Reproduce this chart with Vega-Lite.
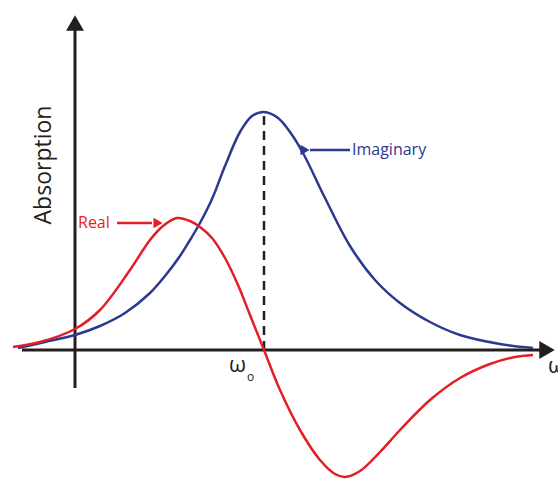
{
  "$schema": "https://vega.github.io/schema/vega-lite/v6.json",
  "width": 558,
  "height": 480,
  "autosize": {"type": "none"},
  "padding": 0,
  "background": "white",
  "config": {"view": {"stroke": null}},
  "datasets": {
    "curves": [
      {"series": "Imaginary", "w": 18, "a": 2},
      {"series": "Imaginary", "w": 45, "a": 8},
      {"series": "Imaginary", "w": 75, "a": 15},
      {"series": "Imaginary", "w": 100, "a": 24},
      {"series": "Imaginary", "w": 125, "a": 37},
      {"series": "Imaginary", "w": 150, "a": 57},
      {"series": "Imaginary", "w": 165, "a": 74},
      {"series": "Imaginary", "w": 180, "a": 94},
      {"series": "Imaginary", "w": 190, "a": 110},
      {"series": "Imaginary", "w": 200, "a": 127},
      {"series": "Imaginary", "w": 212, "a": 151},
      {"series": "Imaginary", "w": 225, "a": 184},
      {"series": "Imaginary", "w": 240, "a": 218},
      {"series": "Imaginary", "w": 252, "a": 234},
      {"series": "Imaginary", "w": 264, "a": 238},
      {"series": "Imaginary", "w": 278, "a": 232},
      {"series": "Imaginary", "w": 290, "a": 218},
      {"series": "Imaginary", "w": 303, "a": 197},
      {"series": "Imaginary", "w": 325, "a": 152},
      {"series": "Imaginary", "w": 350, "a": 104},
      {"series": "Imaginary", "w": 375, "a": 70},
      {"series": "Imaginary", "w": 400, "a": 47},
      {"series": "Imaginary", "w": 430, "a": 28},
      {"series": "Imaginary", "w": 460, "a": 15},
      {"series": "Imaginary", "w": 500, "a": 6},
      {"series": "Imaginary", "w": 533, "a": 2},
      {"series": "Real", "w": 13, "a": 3},
      {"series": "Real", "w": 40, "a": 8},
      {"series": "Real", "w": 75, "a": 21},
      {"series": "Real", "w": 100, "a": 40},
      {"series": "Real", "w": 130, "a": 80},
      {"series": "Real", "w": 150, "a": 110},
      {"series": "Real", "w": 163, "a": 124},
      {"series": "Real", "w": 177, "a": 132},
      {"series": "Real", "w": 190, "a": 129},
      {"series": "Real", "w": 200, "a": 123},
      {"series": "Real", "w": 212, "a": 112},
      {"series": "Real", "w": 225, "a": 92},
      {"series": "Real", "w": 238, "a": 65},
      {"series": "Real", "w": 250, "a": 35},
      {"series": "Real", "w": 264, "a": 0},
      {"series": "Real", "w": 280, "a": -40},
      {"series": "Real", "w": 300, "a": -80},
      {"series": "Real", "w": 320, "a": -110},
      {"series": "Real", "w": 335, "a": -124},
      {"series": "Real", "w": 345, "a": -127},
      {"series": "Real", "w": 360, "a": -121},
      {"series": "Real", "w": 380, "a": -102},
      {"series": "Real", "w": 400, "a": -80},
      {"series": "Real", "w": 430, "a": -50},
      {"series": "Real", "w": 460, "a": -28},
      {"series": "Real", "w": 490, "a": -14},
      {"series": "Real", "w": 515, "a": -7},
      {"series": "Real", "w": 533, "a": -5}
    ],
    "axes": [
      {"name": "x", "w": 22, "w2": 542, "a": 0, "a2": 0},
      {"name": "y", "w": 75, "w2": 75, "a": -38, "a2": 320}
    ],
    "peak": [{"w": 264, "a": 0, "a2": 238}],
    "pointers": [
      {"series": "Imaginary", "w": 310, "w2": 350, "a": 200, "a2": 200},
      {"series": "Real", "w": 117, "w2": 152, "a": 127, "a2": 127}
    ],
    "heads": [
      {"series": "Imaginary", "w": 305, "a": 200, "dir": "left"},
      {"series": "Real", "w": 158, "a": 127, "dir": "right"}
    ],
    "axisHeads": [
      {"name": "x", "w": 547, "a": 0, "dir": "right"},
      {"name": "y", "w": 75, "a": 327, "dir": "up"}
    ],
    "labels": [
      {"label": "Imaginary", "series": "Imaginary", "w": 352, "a": 200},
      {"label": "Real", "series": "Real", "w": 78, "a": 127}
    ],
    "ticks": [
      {"label": "ω", "w": 229, "a": -15, "size": 22},
      {"label": "o", "w": 247, "a": -27, "size": 12},
      {"label": "ω", "w": 548, "a": -16, "size": 22}
    ],
    "title": [{"label": "Absorption", "w": 44, "a": 185}]
  },
  "encoding": {
    "x": {"field": "w", "type": "quantitative", "scale": {"domain": [0, 558], "nice": false, "zero": false}, "axis": null},
    "y": {"field": "a", "type": "quantitative", "scale": {"domain": [-130, 350], "nice": false, "zero": false}, "axis": null}
  },
  "layer": [
    {
      "data": {"name": "axes"},
      "mark": {"type": "rule", "color": "#231f20", "strokeWidth": 3},
      "encoding": {"x2": {"field": "w2"}, "y2": {"field": "a2"}}
    },
    {
      "data": {"name": "axisHeads"},
      "mark": {"type": "point", "filled": true, "color": "#231f20", "opacity": 1, "size": 320},
      "encoding": {
        "shape": {"field": "dir", "type": "nominal", "scale": {"domain": ["right", "up"], "range": ["triangle-right", "triangle-up"]}, "legend": null}
      }
    },
    {
      "data": {"name": "peak"},
      "mark": {"type": "rule", "color": "#231f20", "strokeWidth": 2.5, "strokeDash": [9, 6]},
      "encoding": {"y2": {"field": "a2"}}
    },
    {
      "data": {"name": "curves"},
      "mark": {"type": "line", "strokeWidth": 2.5, "interpolate": "catmull-rom"},
      "encoding": {
        "color": {"field": "series", "type": "nominal", "scale": {"domain": ["Imaginary", "Real"], "range": ["#2b3990", "#e31e24"]}, "legend": null}
      }
    },
    {
      "data": {"name": "pointers"},
      "mark": {"type": "rule", "strokeWidth": 2.5},
      "encoding": {
        "x2": {"field": "w2"}, "y2": {"field": "a2"},
        "color": {"field": "series", "type": "nominal", "scale": {"domain": ["Imaginary", "Real"], "range": ["#2b3990", "#e31e24"]}, "legend": null}
      }
    },
    {
      "data": {"name": "heads"},
      "mark": {"type": "point", "filled": true, "opacity": 1, "size": 110},
      "encoding": {
        "shape": {"field": "dir", "type": "nominal", "scale": {"domain": ["left", "right"], "range": ["triangle-left", "triangle-right"]}, "legend": null},
        "color": {"field": "series", "type": "nominal", "scale": {"domain": ["Imaginary", "Real"], "range": ["#2b3990", "#e31e24"]}, "legend": null}
      }
    },
    {
      "data": {"name": "labels"},
      "mark": {"type": "text", "align": "left", "baseline": "middle", "font": "Open Sans", "fontSize": 16},
      "encoding": {
        "text": {"field": "label"},
        "color": {"field": "series", "type": "nominal", "scale": {"domain": ["Imaginary", "Real"], "range": ["#2b3990", "#e31e24"]}, "legend": null}
      }
    },
    {
      "data": {"name": "ticks"},
      "mark": {"type": "text", "align": "left", "baseline": "middle", "font": "Open Sans", "color": "#231f20"},
      "encoding": {
        "text": {"field": "label"},
        "size": {"field": "size", "type": "quantitative", "scale": null}
      }
    },
    {
      "data": {"name": "title"},
      "mark": {"type": "text", "align": "center", "baseline": "middle", "font": "Open Sans", "fontSize": 23, "angle": 270, "color": "#231f20"},
      "encoding": {"text": {"field": "label"}}
    }
  ]
}
